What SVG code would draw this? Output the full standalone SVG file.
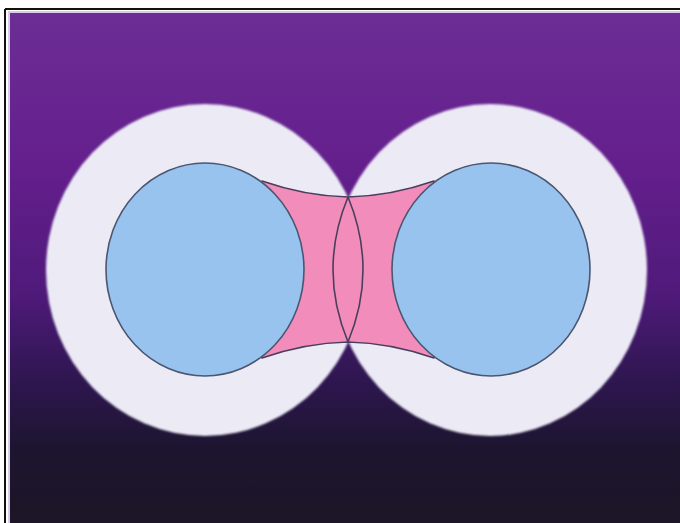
<svg xmlns="http://www.w3.org/2000/svg" width="680" height="523" viewBox="0 0 680 523">
  <defs>
    <linearGradient id="bg" x1="0" y1="0" x2="0" y2="1">
      <stop offset="0" stop-color="#6c2d95"/>
      <stop offset="0.3" stop-color="#641f8d"/>
      <stop offset="0.55" stop-color="#4f1a7a"/>
      <stop offset="0.72" stop-color="#2e1650"/>
      <stop offset="0.85" stop-color="#1d1530"/>
      <stop offset="1" stop-color="#1c1626"/>
    </linearGradient>
    <filter id="soft" x="-5%" y="-5%" width="110%" height="110%">
      <feGaussianBlur stdDeviation="1.2"/>
    </filter>
  </defs>
  <style>
    .white { fill: #ecebf5; filter: url(#soft); }
    .blue { fill: #97c3ee; stroke: #4b5670; stroke-width: 1.6; }
    .pink { fill: #f28dbb; stroke: #4a3e5e; stroke-width: 1.6; stroke-linejoin: round; }
    .lens { fill: none; stroke: #4a3e5e; stroke-width: 1.6; }
  </style>
  <rect x="0" y="0" width="680" height="523" fill="#ffffff"/>
  <rect x="8" y="11" width="672" height="512" fill="#d9cce8"/>
  <rect x="10" y="13" width="670" height="510" fill="url(#bg)"/>
  <line x1="5" y1="9" x2="680" y2="9" stroke="#111" stroke-width="2"/>
  <line x1="5" y1="9" x2="5" y2="523" stroke="#111" stroke-width="2"/>

  <g id="outer-left"><ellipse class="white" cx="205" cy="270" rx="159" ry="166"/></g>
  <g id="outer-right"><ellipse class="white" cx="490" cy="270" rx="157" ry="166"/></g>

  <g id="bridge">
    <path class="pink" d="M262,181 Q305,196 348,197 Q391,196 434,181 L420,270 L434,358 Q391,343 348,342 Q305,343 262,358 L276,270 Z"/>
  </g>
  <g id="connectors">
    <path class="lens" d="M348,197 Q318,269.5 348,342"/>
    <path class="lens" d="M348,197 Q378,269.5 348,342"/>
  </g>

  <g id="inner-left"><ellipse class="blue" cx="205" cy="269.5" rx="99" ry="106.5"/></g>
  <g id="inner-right"><ellipse class="blue" cx="491" cy="269.5" rx="99" ry="106.5"/></g>
</svg>
